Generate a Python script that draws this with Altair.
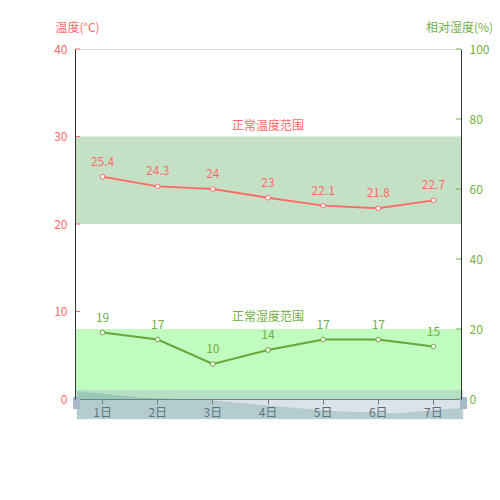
import altair as alt
import pandas as pd

days = ["1日", "2日", "3日", "4日", "5日", "6日", "7日"]
temps = [25.4, 24.3, 24, 23, 22.1, 21.8, 22.7]
humids = [19, 17, 10, 14, 17, 17, 15]
temp_range = [20, 30]
humid_range = [0, 20]
temp_ticks = [0, 10, 20, 30, 40]
humid_ticks = [0, 20, 40, 60, 80, 100]
temp_band_label = "正常温度范围"
humid_band_label = "正常湿度范围"

RED = "#ff6b6b"
GREEN_LINE = "#6aa53a"
GREEN_TXT = "#72b046"
FONT = "Noto Sans CJK SC"
W, H = 386, 350

df = pd.DataFrame({"day": days, "temp": temps, "humid": humids})
tband = pd.DataFrame({"lo": [temp_range[0]], "hi": [temp_range[1]], "label": [temp_band_label]})
hband = pd.DataFrame({"lo": [humid_range[0]], "hi": [humid_range[1]], "label": [humid_band_label]})
tticks = pd.DataFrame({"v": temp_ticks})
hticks = pd.DataFrame({"v": humid_ticks})
one = pd.DataFrame({"a": [0]})

xscale = alt.Scale(type="band", paddingInner=0, paddingOuter=0)
x_main = alt.X("day:N", sort=days, scale=xscale,
               axis=alt.Axis(title=None, labelAngle=0, labelColor="#333", domainColor="#555",
                             tickColor="#555", tickSize=5, labelPadding=3, labelFontSize=12,
                             labelFont=FONT))
x_hidden = alt.X("day:N", sort=days, scale=xscale, axis=None)

tscale = alt.Scale(domain=[0, 40], nice=False, zero=True)
taxis = alt.Axis(title="温度(°C)", titleAngle=0, titleAlign="center", titleBaseline="middle",
                 titleX=2, titleY=-22, titleColor=RED, titleFontWeight="normal", titleFontSize=12,
                 titleFont=FONT, values=temp_ticks, labelColor=RED, labelFontSize=12, labelFont=FONT,
                 ticks=False, labelPadding=8, domainColor="#333", grid=False, zindex=1, orient="left")
hscale = alt.Scale(domain=[0, 100], nice=False, zero=True)
haxis = alt.Axis(title="相对湿度(%)", titleAngle=0, titleAlign="center", titleBaseline="middle",
                 titleX=-2, titleY=-22, titleColor=GREEN_TXT, titleFontWeight="normal", titleFontSize=12,
                 titleFont=FONT, values=humid_ticks, labelColor=GREEN_TXT, labelFontSize=12, labelFont=FONT,
                 ticks=False, labelPadding=8, domainColor="#333", grid=False, zindex=1, orient="right")

def ty(field):
    return alt.Y(field, scale=tscale, axis=taxis)

def hy(field):
    return alt.Y(field, scale=hscale, axis=haxis)

# Temperature group
t_band = alt.Chart(tband).mark_rect(color="#c5e1c5").encode(
    y=ty("lo:Q"), y2="hi:Q", x=alt.value(0), x2=alt.value(W))
t_band_lbl = alt.Chart(tband).mark_text(color=RED, font=FONT, fontSize=12, dy=-11).encode(
    y=ty("hi:Q"), x=alt.value(W / 2), text="label:N")
t_ticks = alt.Chart(tticks).mark_rule(color=RED).encode(
    y=ty("v:Q"), x=alt.value(0), x2=alt.value(5))
t_line = alt.Chart(df).mark_line(color=RED, strokeWidth=2).encode(x=x_main, y=ty("temp:Q"))
t_pts = alt.Chart(df).mark_point(shape="circle", filled=True, fill="white", stroke=RED,
                                 strokeWidth=1, size=22, opacity=1).encode(x=x_main, y=ty("temp:Q"))
t_txt = alt.Chart(df).mark_text(color=RED, font=FONT, fontSize=12, dy=-15).encode(
    x=x_main, y=ty("temp:Q"), text="temp:Q")
temp_group = alt.layer(t_band, t_ticks, t_line, t_pts, t_txt, t_band_lbl)

# Humidity group
h_band = alt.Chart(hband).mark_rect(color="#c0fcc0").encode(
    y=hy("lo:Q"), y2="hi:Q", x=alt.value(0), x2=alt.value(W))
h_band_lbl = alt.Chart(hband).mark_text(color=GREEN_TXT, font=FONT, fontSize=12, dy=-12).encode(
    y=hy("hi:Q"), x=alt.value(W / 2), text="label:N")
h_ticks = alt.Chart(hticks).mark_rule(color=GREEN_TXT).encode(
    y=hy("v:Q"), x=alt.value(W - 5), x2=alt.value(W))
h_line = alt.Chart(df).mark_line(color=GREEN_LINE, strokeWidth=2).encode(x=x_hidden, y=hy("humid:Q"))
h_pts = alt.Chart(df).mark_point(shape="circle", filled=True, fill="white", stroke=GREEN_LINE,
                                 strokeWidth=1, size=22, opacity=1).encode(x=x_hidden, y=hy("humid:Q"))
h_txt = alt.Chart(df).mark_text(color=GREEN_TXT, font=FONT, fontSize=12, dy=-15).encode(
    x=x_hidden, y=hy("humid:Q"), text="humid:Q")
humid_group = alt.layer(h_band, h_ticks, h_line, h_pts, h_txt, h_band_lbl)

# Data-zoom slider decoration (shadow of the temperature series)
SH_LO, SH_HI = 20.86, 25.56
filler = alt.Chart(one).mark_rect(color="#a7b7cc", opacity=0.4, stroke="#c8cfd8", strokeWidth=1,
                                  strokeOpacity=1).encode(
    x=alt.value(2), x2=alt.value(W + 2), y=alt.value(341), y2=alt.value(370))
shadow = alt.Chart(df).mark_area(color="#5a9594", opacity=0.3).encode(
    x=alt.X("day:N", sort=days, scale=alt.Scale(type="point", padding=0, range=[2, W + 2]), axis=None),
    y=alt.Y("temp:Q", scale=alt.Scale(domain=[SH_LO, SH_HI], range=[370, 341], zero=False, nice=False),
            axis=None),
    y2=alt.datum(SH_LO))
handle_l = alt.Chart(one).mark_rect(color="#a7b7cc", cornerRadius=1).encode(
    x=alt.value(-2), x2=alt.value(5), y=alt.value(348), y2=alt.value(360))
handle_r = alt.Chart(one).mark_rect(color="#a7b7cc", cornerRadius=1).encode(
    x=alt.value(W - 1), x2=alt.value(W + 6), y=alt.value(348), y2=alt.value(360))
slider_group = alt.layer(filler, shadow, handle_l, handle_r)

chart = alt.layer(temp_group, humid_group, slider_group).resolve_scale(
    y="independent", x="independent"
).properties(
    width=W, height=H, autosize=alt.AutoSizeParams(type="none"),
    padding={"left": 67, "top": 41, "right": 31, "bottom": 60}
).configure_view(stroke=None).configure(font=FONT)

chart.save("out.html", embed_options={"renderer": "svg", "actions": False})
